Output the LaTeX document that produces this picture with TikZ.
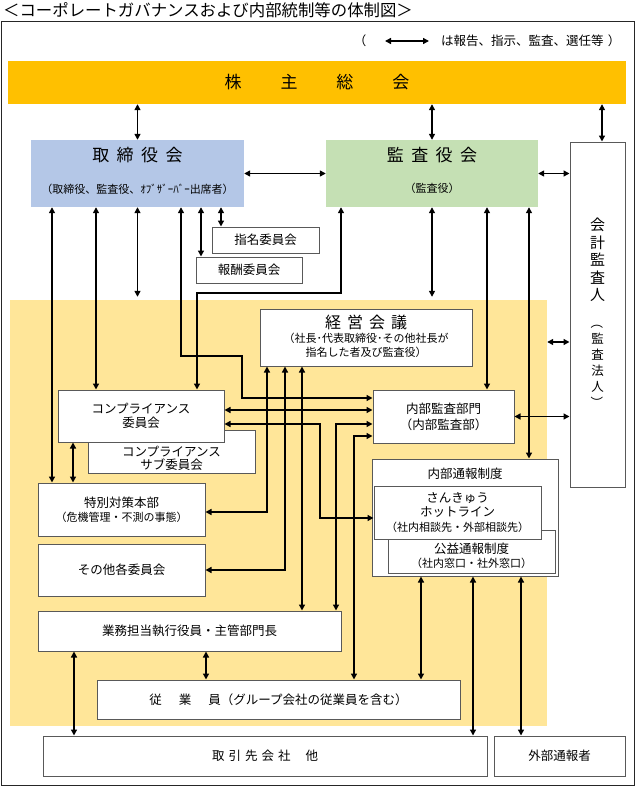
\documentclass[tikz,border=0pt]{standalone}
\usepackage{fontspec}
\setmainfont{Noto Sans CJK JP}
\usetikzlibrary{arrows.meta}
\definecolor{kabuorange}{HTML}{FFC000}
\definecolor{bodblue}{HTML}{B4C7E7}
\definecolor{kansagreen}{HTML}{C5E0B4}
\definecolor{zoneyellow}{HTML}{FFE699}
\definecolor{boxgray}{HTML}{595959}
\newcommand{\bodyfont}{\fontsize{12.5}{14.5}\selectfont}
\newcommand{\smallfont}{\fontsize{11}{14}\selectfont}
\newcommand{\vparen}[1]{\rotatebox[origin=c]{-90}{#1}}
\begin{document}
\begin{tikzpicture}[x=1pt,y=-1pt,>={Triangle[length=6pt,width=6pt]}]
		\tikzstyle{every node}+=[inner sep=0pt,font=\bodyfont]
		\tikzstyle{box}=[draw=boxgray,line width=1pt,fill=white]
		\tikzstyle{conn}=[black,line width=1.4pt,<->]
		\useasboundingbox (0,0) rectangle (636,787);
		\node [anchor=west,font=\fontsize{16.4}{18}\selectfont] (title) at (3,10) {＜コーポレートガバナンスおよび内部統制等の体制図＞};
		\draw [black!85,line width=0.8pt] (1,21) rectangle (634,785);
		\node (legl) at (360,41) {（};
		\coordinate (lega) at (385,41);
		\coordinate (legb) at (429,41);
		\node [anchor=west] (legtext) at (441,41) {は報告、指示、監査、選任等};
		\node (legr) at (614,41) {）};
		\node [fill=kabuorange,minimum width=618pt,minimum height=43pt,font=\fontsize{17}{20}\selectfont] (kabu) at (317,82.5) {株\hspace{39pt}主\hspace{39pt}総\hspace{39pt}会};
		\node [fill=bodblue,minimum width=213pt,minimum height=67pt] (bod) at (137.5,173.5) {};
		\node [font=\fontsize{17}{20}\selectfont] (bodt) at (137.5,155) {取\hspace{7.5pt}締\hspace{7.5pt}役\hspace{7.5pt}会};
		\node [font=\smallfont] (bods) at (137.5,189) {（取締役、監査役、ｵﾌﾞｻﾞｰﾊﾞｰ出席者）};
		\node [fill=kansagreen,minimum width=212pt,minimum height=67pt] (kansa) at (432,173.5) {};
		\node [font=\fontsize{17}{20}\selectfont] (kansat) at (432,155) {監\hspace{7.5pt}査\hspace{7.5pt}役\hspace{7.5pt}会};
		\node [font=\smallfont] (kansas) at (432,188) {（監査役）};
		\node [box,minimum width=55pt,minimum height=345pt] (kaikei) at (597.5,314.5) {};
		\node [align=center,font=\fontsize{15}{17.5}\selectfont] (kaikeit) at (597.5,260) {会\\計\\監\\査\\人};
		\node [align=center,font=\fontsize{12.5}{16}\selectfont] (kaikeis) at (597.5,363) {\vparen{（}\\監\\査\\法\\人\\\vparen{）}};
		\node [box,minimum width=107pt,minimum height=26pt] (shimei) at (265.5,240) {指名委員会};
		\node [box,minimum width=106pt,minimum height=26pt] (houshu) at (249,270) {報酬委員会};
		\node [fill=zoneyellow,minimum width=537pt,minimum height=426pt] (zone) at (278.5,513) {};
		\node [box,minimum width=212pt,minimum height=57pt] (keiei) at (366,337.5) {};
		\node [font=\fontsize{16}{18}\selectfont] (keieit) at (366,322) {経\hspace{6pt}営\hspace{6pt}会\hspace{6pt}議};
		\node [align=center,font=\smallfont] (keieis) at (366,345) {（社長･代表取締役･その他社長が\\指名した者及び監査役）};
		\node [box,minimum width=167pt,minimum height=43pt] (compsub) at (171.5,451.5) {};
		\node [align=center,font=\fontsize{12.5}{13}\selectfont] (compsubt) at (171.5,458) {コンプライアンス\\サブ委員会};
		\node [box,minimum width=166pt,minimum height=52pt,align=center] (comp) at (141,416) {コンプライアンス\\委員会};
		\node [box,minimum width=141pt,minimum height=53pt,align=center,font=\fontsize{12.5}{16}\selectfont] (naibu) at (443.5,416.5) {内部監査部門\\（内部監査部）};
		\node [box,minimum width=186pt,minimum height=117pt] (tsuho) at (465,517.5) {};
		\node (tsuhot) at (465,474) {内部通報制度};
		\node [box,minimum width=167pt,minimum height=43pt] (koeki) at (471.5,551.5) {};
		\node [align=center] (koekit) at (471.5,556) {公益通報制度\\{\smallfont （社内窓口・社外窓口）}};
		\node [box,minimum width=167pt,minimum height=53pt,align=center] (hotline) at (457.5,512.5) {さんきゅう\\ホットライン\\{\smallfont （社内相談先・外部相談先）}};
		\node [box,minimum width=167pt,minimum height=53pt,align=center] (tokubetsu) at (121.5,509.5) {特別対策本部\\{\smallfont （危機管理・不測の事態）}};
		\node [box,minimum width=167pt,minimum height=52pt] (sonota) at (121.5,570) {その他各委員会};
		\node [box,minimum width=303pt,minimum height=40pt] (gyomu) at (189.5,631) {業務担当執行役員・主管部門長};
		\node [box,minimum width=363pt,minimum height=39pt] (jugyoin) at (278.5,699.5) {従\hspace{17pt}業\hspace{17pt}員（グループ会社の従業員を含む）};
		\node [box,minimum width=444pt,minimum height=40pt] (torihiki) at (265,756) {取\hspace{4pt}引\hspace{4pt}先\hspace{4pt}会\hspace{4pt}社\hspace{15pt}他};
		\node [box,minimum width=131pt,minimum height=40pt] (gaibu) at (559.5,756) {外部通報者};
		\draw [conn] (lega) -- (legb);
		\draw [conn] (kabu.south -| bod.north) -- (bod.north);
		\draw [conn] (kabu.south -| kansa.north) -- (kansa.north);
		\draw [conn] (kabu.south -| 602,0) -- (kaikei.north -| 602,0);
		\draw [conn] (bod.east) -- (kansa.west);
		\draw [conn] (kansa.east) -- (kaikei.west |- kansa.east);
		\draw [conn] (bod.south -| 52,0) -- (tokubetsu.north -| 52,0);
		\draw [conn] (bod.south -| 96,0) -- (comp.north -| 96,0);
		\draw [conn,shorten >=3pt] (bod.south) -- (bod.south |- zone.north);
		\draw [conn] (bod.south -| 181,0) -- (181,356) -| (242,398) -- (naibu.west |- 0,398);
		\draw [conn] (bod.south -| 201,0) -- (houshu.north -| 201,0);
		\draw [conn] (bod.south -| 221,0) -- (shimei.north -| 221,0);
		\draw [conn] (kansa.south -| 341,0) |- (197,293) -- (comp.north -| 197,0);
		\draw [conn,shorten >=3pt] (kansa.south) -- (kansa.south |- zone.north);
		\draw [conn] (kansa.south -| 487,0) -- (naibu.north -| 487,0);
		\draw [conn] (kansa.south -| 529,0) -- (tsuho.north -| 529,0);
		\draw [conn] (zone.east |- 0,342) -- (kaikei.west |- 0,342);
		\draw [conn] (naibu.east) -- (kaikei.west |- naibu.east);
		\draw [conn] (keiei.south -| 267,0) |- (tokubetsu.east |- 0,512);
		\draw [conn] (keiei.south -| 285,0) |- (sonota.east);
		\draw [conn] (keiei.south -| 302,0) -- (gyomu.north -| 302,0);
		\draw [conn] (comp.east |- 0,410) -- (naibu.west |- 0,410);
		\draw [conn] (comp.east |- 0,424) -| (320,518) -- (hotline.west |- 0,518);
		\draw [conn] (gyomu.north -| 336,0) |- (naibu.west |- 0,424);
		\draw [conn] (jugyoin.north -| 354,0) |- (naibu.west |- 0,436);
		\draw [conn] (comp.south -| 73,0) -- (tokubetsu.north -| 73,0);
		\draw [conn] (tsuho.south -| 421,0) -- (jugyoin.north -| 421,0);
		\draw [conn] (tsuho.south -| 473,0) -- (torihiki.north -| 473,0);
		\draw [conn] (tsuho.south -| 521,0) -- (gaibu.north -| 521,0);
		\draw [conn] (gyomu.south -| 206,0) -- (jugyoin.north -| 206,0);
		\draw [conn] (gyomu.south -| 74,0) -- (torihiki.north -| 74,0);
\end{tikzpicture}
\end{document}
